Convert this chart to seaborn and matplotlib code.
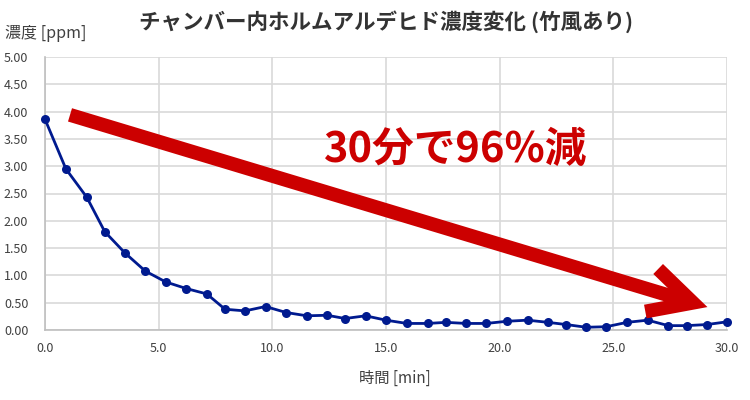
import matplotlib
matplotlib.use("Agg")
import matplotlib.pyplot as plt
import seaborn as sns
import pandas as pd

time_min = [0.00, 0.92, 1.84, 2.63, 3.52, 4.41, 5.31, 6.21, 7.12, 7.92, 8.80, 9.70,
            10.61, 11.52, 12.41, 13.20, 14.10, 15.00, 15.92, 16.83, 17.64, 18.53, 19.41,
            20.32, 21.23, 22.13, 22.92, 23.81, 24.69, 25.60, 26.51, 27.42, 28.23, 29.12, 30.00]
conc_ppm = [3.86, 2.95, 2.43, 1.80, 1.41, 1.08, 0.88, 0.76, 0.66, 0.38, 0.35, 0.43,
            0.32, 0.26, 0.27, 0.21, 0.26, 0.18, 0.12, 0.12, 0.14, 0.12, 0.12,
            0.16, 0.18, 0.14, 0.10, 0.05, 0.06, 0.14, 0.18, 0.08, 0.08, 0.10, 0.15]
x_ticks = [0, 5, 10, 15, 20, 25, 30]
y_ticks = [0.0, 0.5, 1.0, 1.5, 2.0, 2.5, 3.0, 3.5, 4.0, 4.5, 5.0]

title = "チャンバー内ホルムアルデヒド濃度変化 (竹風あり)"
y_label = "濃度 [ppm]"
x_label = "時間 [min]"
note = "30分で96%減"

sns.set_theme(style="white")
plt.rcParams["font.family"] = ["Noto Sans CJK JP", "DejaVu Sans"]

df = pd.DataFrame({"time": time_min, "conc": conc_ppm})

fig = plt.figure(figsize=(7.5, 4.0), dpi=100)
ax = fig.add_axes([45 / 750, 1 - 330 / 400, (727 - 45) / 750, (330 - 57) / 400])

sns.lineplot(data=df, x="time", y="conc", ax=ax, color="#001a8f", linewidth=2.0,
             marker="o", markersize=6.5, markeredgewidth=0, zorder=3, clip_on=False)

ax.set_xlim(0, 30)
ax.set_ylim(0, 5)
ax.set_xticks(x_ticks)
ax.set_yticks(y_ticks)
ax.set_xticklabels([f"{v:.1f}" for v in x_ticks])
ax.set_yticklabels([f"{v:.2f}" for v in y_ticks])
ax.tick_params(axis="both", length=0, labelsize=9, colors="#404040")
ax.tick_params(axis="y", pad=12)
ax.tick_params(axis="x", pad=9)
ax.grid(True, color="#d9d9d9", linewidth=1.2)
ax.set_axisbelow(True)
for s in ["top", "right"]:
    ax.spines[s].set_visible(False)
for s in ["left", "bottom"]:
    ax.spines[s].set_color("#bfbfbf")
    ax.spines[s].set_linewidth(1.2)
ax.set_xlabel("")
ax.set_ylabel("")

fig.text(386 / 750, 1 - 22 / 400, title, ha="center", va="center",
         fontsize=15.5, fontweight="bold", color="#333333")
fig.text(5 / 750, 1 - 33 / 400, y_label, ha="left", va="center",
         fontsize=11.5, color="#404040")
fig.text(395 / 750, 1 - 378 / 400, x_label, ha="center", va="center",
         fontsize=11, color="#404040")

ax.annotate("", xy=(29.14, 0.42), xytext=(1.10, 3.94),
            arrowprops=dict(arrowstyle="->,head_length=1.55,head_width=0.8",
                            mutation_scale=20, lw=10, color="#cc0000",
                            shrinkA=0, shrinkB=0, capstyle="butt",
                            joinstyle="miter"),
            zorder=4, annotation_clip=False)

ax.text((456 - 45) / (727 - 45) * 30, (330 - 150) / 54.6, note,
        ha="center", va="center", fontsize=30, fontweight="bold", color="#cc0000",
        zorder=5)

fig.savefig("out.png", dpi=100)
